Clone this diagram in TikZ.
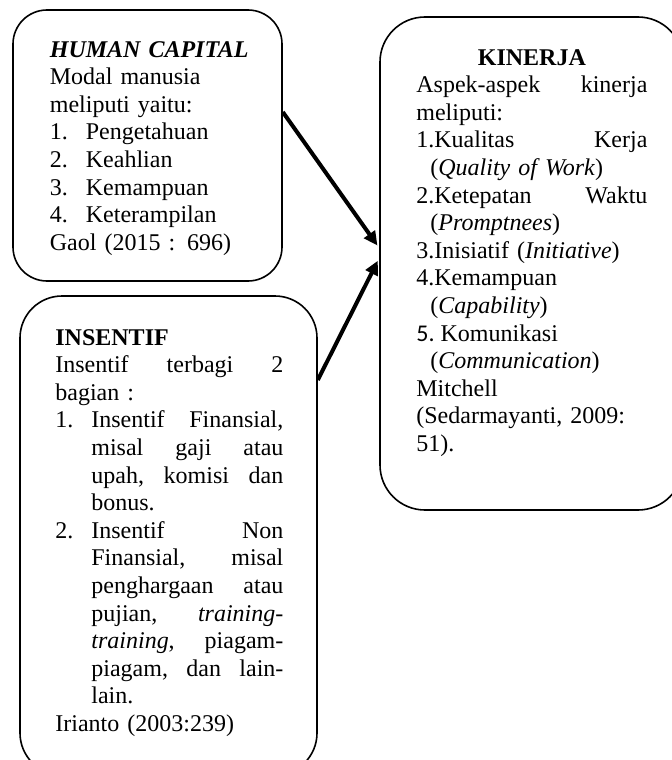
\documentclass[tikz,border=0pt]{standalone}
\usepackage{fontspec}
\setmainfont{Liberation Serif}
\newfontfamily\calfont{Carlito}
\usetikzlibrary{arrows.meta}

\newcommand{\nlbl}[1]{\makebox[18pt][l]{#1}}
\newcommand{\ind}{\hspace*{18pt}}
\newcommand{\kind}{\hspace*{7pt}}

\tikzset{
  box/.style={draw, line width=.8pt, inner sep=0pt},
  txt/.style={anchor=base west, inner sep=0pt, align=left, font=\fontsize{12}{13.8}\selectfont},
  arr/.style={line width=2pt, -{Triangle[length=7pt,width=6.5pt]}, shorten >=1.5pt}
}

\begin{document}
\begin{tikzpicture}[x=.5pt, y=-.5pt]
\useasboundingbox (0,0) rectangle (671,760);

% boxes
\node[box, rounded corners=17pt, minimum width=134.5pt, minimum height=135.5pt] (hc) at (147.5,145.5) {};
\node[box, rounded corners=21pt, minimum width=148.5pt, minimum height=239.5pt] (ins) at (168.5,535.5) {};
\node[box, rounded corners=22.5pt, minimum width=151.5pt, minimum height=246.5pt] (kin) at (531.5,263.5) {};

% texts
\node[txt, text width=115pt] (hctxt) at (49.5,57) {%
\textbf{\textit{HUMAN CAPITAL}}\\
Modal manusia\\
meliputi yaitu:\\
\nlbl{1.}Pengetahuan\\
\nlbl{2.}Keahlian\\
\nlbl{3.}Kemampuan\\
\nlbl{4.}Keterampilan\\
Gaol (2015 : 696)};

\node[txt, text width=114pt] (instxt) at (55,345) {%
\textbf{INSENTIF}\\
Insentif \hfill terbagi \hfill 2\\
bagian :\\
\nlbl{1.}Insentif \hfill Finansial,\\
\ind misal \hfill gaji \hfill atau\\
\ind upah, \hfill komisi \hfill dan\\
\ind bonus.\\
\nlbl{2.}Insentif \hfill Non\\
\ind Finansial, \hfill misal\\
\ind penghargaan \hfill atau\\
\ind pujian, \hfill \textit{training-}\\
\ind \textit{training}, \hfill piagam-\\
\ind piagam, \hfill dan \hfill lain-\\
\ind lain.\\
Irianto (2003:239)};

\node[txt, text width=115.5pt] (kintxt) at (416,65) {%
\makebox[\linewidth]{\textbf{KINERJA}}\\
Aspek-aspek \hfill kinerja\\
meliputi:\\
1.Kualitas \hfill Kerja\\
\kind(\textit{Quality of Work})\\
2.Ketepatan \hfill Waktu\\
\kind(\textit{Promptnees})\\
3.Inisiatif (\textit{Initiative})\\
4.Kemampuan\\
\kind(\textit{Capability})\\
{\calfont 5.}\hspace{3pt}Komunikasi\\
\kind(\textit{Communication})\\
Mitchell\\
(Sedarmayanti, 2009:\\
51).};

% arrows
\draw[arr] ([yshift=16.75pt]hc.east) -- ([yshift=7.75pt]kin.west);
\draw[arr] ([yshift=77.75pt]ins.east) -- ([yshift=2.75pt]kin.west);
\end{tikzpicture}
\end{document}
